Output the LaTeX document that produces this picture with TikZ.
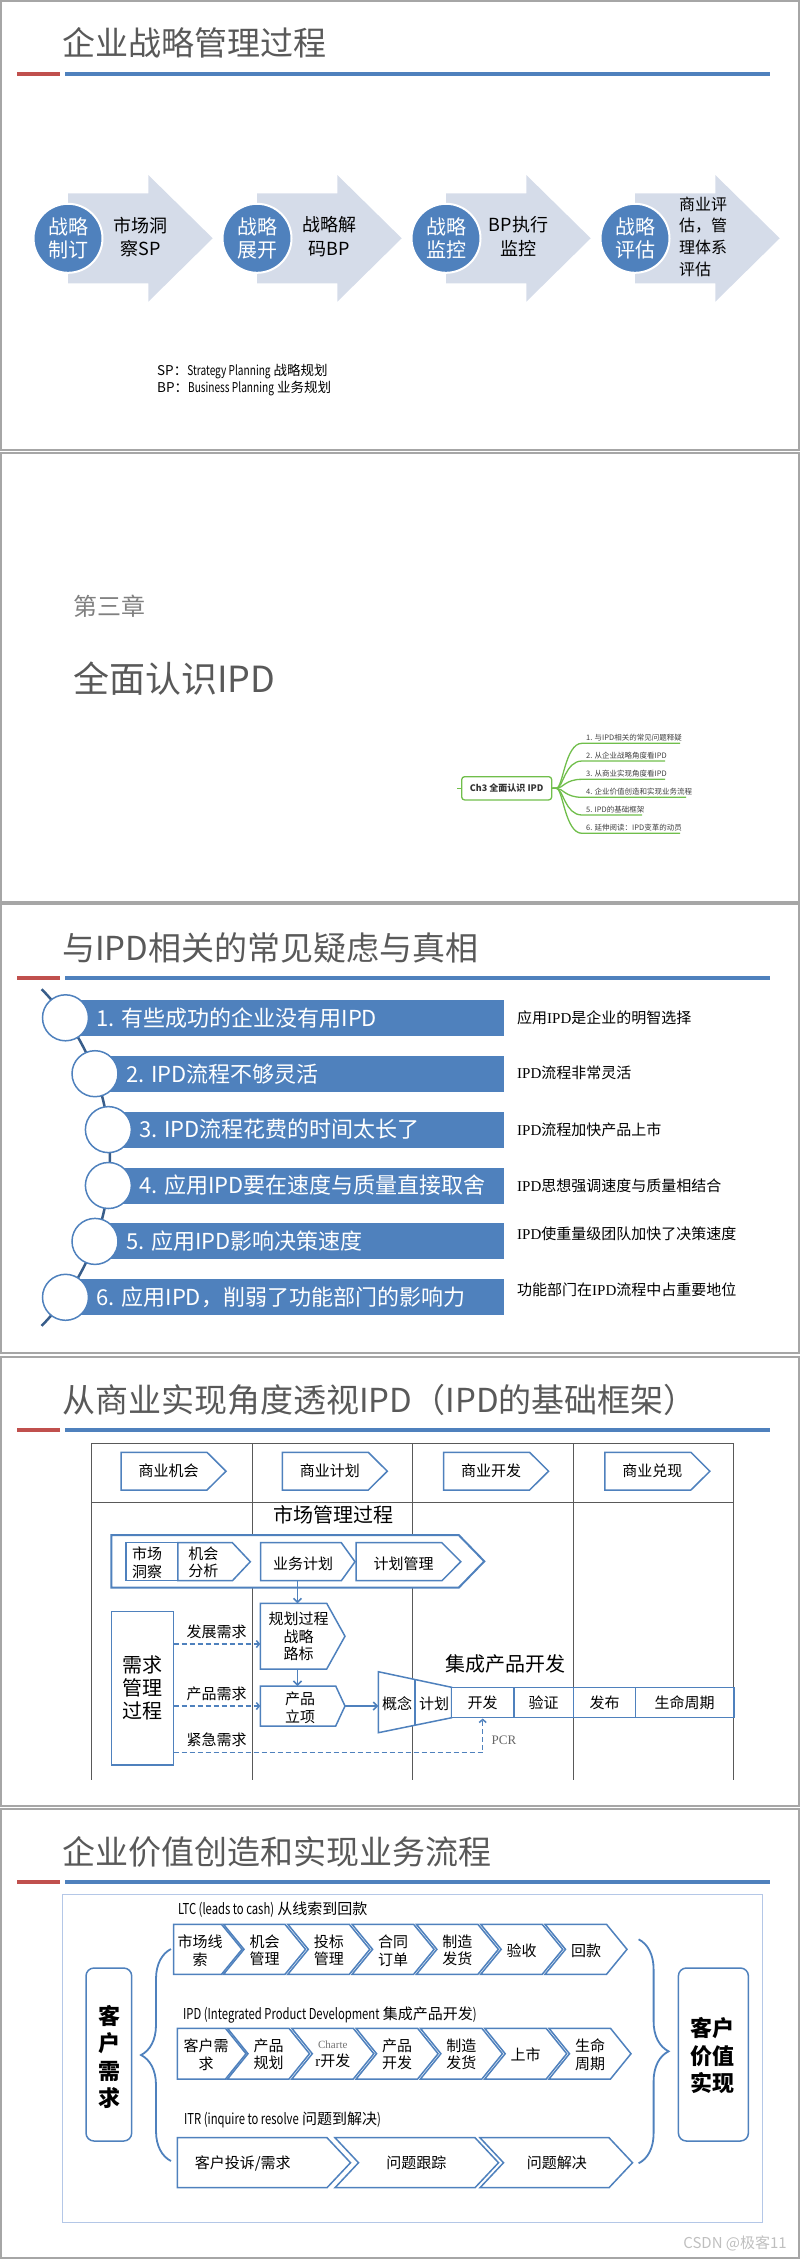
\documentclass[tikz,border=0pt]{standalone}
\usepackage{fontspec}
\setmainfont{Noto Sans CJK SC}
\newfontfamily\narrowlat[FakeStretch=0.75]{Noto Sans CJK SC}
\newfontfamily\serifipd{Liberation Serif}
\usetikzlibrary{arrows.meta,decorations.pathreplacing}
\definecolor{OfficeBlue}{RGB}{79,129,189}
\definecolor{DeepBlue}{RGB}{56,93,138}
\definecolor{TitleRed}{RGB}{192,80,77}
\definecolor{TitleGray}{RGB}{89,89,89}
\definecolor{FrameGray}{RGB}{166,166,166}
\definecolor{ArrowFill}{RGB}{213,220,233}
\definecolor{MindGreen}{RGB}{112,190,75}
\definecolor{PaleBlue}{RGB}{180,199,231}
\tikzset{
  slideframe/.style={draw=FrameGray,line width=2pt},
  slidetitle/.style={anchor=west,inner sep=0pt,text=TitleGray,font=\fontsize{33}{38}\selectfont},
  redbar/.style={draw=TitleRed,line width=4pt},
  bluebar/.style={draw=OfficeBlue,line width=4pt},
  bigarrow/.style={fill=ArrowFill},
  stagedot/.style={circle,fill=OfficeBlue,draw=white,line width=2pt,minimum size=69pt,inner sep=0pt,
    text=white,align=center,font=\fontsize{20}{23.3}\selectfont},
  arrowtext/.style={align=center,inner sep=0pt,font=\fontsize{18}{23.3}\selectfont},
  note/.style={anchor=west,inner sep=0pt,font=\fontsize{13.5}{16}\selectfont},
  chapterno/.style={anchor=west,inner sep=0pt,text=black!50,font=\fontsize{24}{28}\selectfont},
  chaptername/.style={anchor=west,inner sep=0pt,text=TitleGray,font=\fontsize{36}{42}\selectfont},
  hubbox/.style={draw=MindGreen,line width=1.3pt,rounded corners=3pt,minimum width=90pt,minimum height=23.3pt,
    inner sep=0pt,text=black!80,font=\bfseries\fontsize{9}{10}\selectfont},
  twig/.style={draw=MindGreen,line width=1.3pt},
  twiglabel/.style={anchor=south west,inner sep=0pt,text=black!75,font=\fontsize{7.5}{9}\selectfont},
  spine/.style={draw=DeepBlue,line width=2.5pt},
  mythbar/.style={fill=OfficeBlue},
  mythdot/.style={circle,draw=OfficeBlue,fill=white,line width=1.5pt,minimum size=46pt,inner sep=0pt},
  mythtext/.style={anchor=west,inner sep=0pt,text=white,font=\fontsize{22}{26}\selectfont},
  truthtext/.style={anchor=west,inner sep=0pt,font=\fontsize{15}{18}\selectfont},
  lanerule/.style={draw=black!65,line width=1pt},
  flowbox/.style={draw=OfficeBlue,line width=1.5pt,fill=white},
  flowtext/.style={align=center,inner sep=0pt,font=\fontsize{15}{17.5}\selectfont},
  bigtext/.style={align=center,inner sep=0pt,font=\fontsize{20}{23}\selectfont},
  flowarr/.style={draw=OfficeBlue,line width=1.5pt,-{Straight Barb[length=4pt,width=8pt]}},
  demand/.style={draw=OfficeBlue,line width=1.5pt,dash pattern=on 5pt off 3pt,-{Straight Barb[length=3pt,width=7pt]}},
  pcr/.style={inner sep=0pt,text=black!60,font=\serifipd\fontsize{13}{15}\selectfont},
  panel/.style={draw=PaleBlue,line width=1pt},
  chev/.style={draw=OfficeBlue,line width=1.5pt,fill=white},
  chevtext/.style={align=center,inner sep=0pt,font=\fontsize{15}{17.5}\selectfont},
  rowlabel/.style={anchor=west,inner sep=0pt,font=\fontsize{15}{18}\selectfont},
  bracket/.style={draw=OfficeBlue,line width=1.8pt,decorate,decoration={brace,amplitude=30pt}},
  valbox/.style={draw=OfficeBlue,line width=1.5pt,rounded corners=8pt},
  valtext/.style={align=center,inner sep=0pt,font=\bfseries\fontsize{22}{27.5}\selectfont},
}

\begin{document}
\begin{tikzpicture}[x=1pt,y=-1pt]
\useasboundingbox (0,0) rectangle (800,2259);

% slide 1: strategy management
\draw[slideframe] (1,1) rectangle (799,450);
\node[slidetitle] (t1) at (62,43) {企业战略管理过程};
\draw[redbar] (17,74) -- (60,74);
\draw[bluebar] (65,74) -- (770,74);
\foreach \i/\dtext in {0/{战略\\制订},1/{战略\\展开},2/{战略\\监控},3/{战略\\评估}}{
  \fill[bigarrow] ({68+189*\i},193.3) -- ({148.3+189*\i},193.3) -- ({148.3+189*\i},175) -- ({212.7+189*\i},238.3)
    -- ({148.3+189*\i},301.7) -- ({148.3+189*\i},283.3) -- ({68+189*\i},283.3) -- cycle;
  \node[stagedot] (dot\i) at ({68+189*\i},238.3) {\dtext};
}
\node[arrowtext] (step0) at (140.5,236.7) {市场洞\\察SP};
\node[arrowtext] (step1) at (329.5,236.7) {战略解\\码BP};
\node[arrowtext] (step2) at (518.5,236.7) {BP执行\\监控};
\node[arrowtext,anchor=west,align=left,font=\fontsize{16}{21.8}\selectfont] (step3) at (679,236.7) {商业评\\估，管\\理体系\\评估};
\node[note] (sp) at (157,371) {SP：{\narrowlat Strategy Planning} 战略规划};
\node[note] (bp) at (157,389) {BP：{\narrowlat Business Planning} 业务规划};

% slide 2: chapter cover
\draw[slideframe] (1,453) rectangle (799,902);
\node[chapterno] (chap) at (73,606) {第三章};
\node[chaptername] (chapname) at (73,679) {全面认识IPD};
\node[hubbox] (hub) at (506.7,788.3) {Ch3 全面认识 IPD};
\coordinate (stub) at (457,788.3);
\draw[twig] (stub) -- (hub.west);
\foreach \y/\xe/\txt [count=\k] in {743.3/680/{与IPD相关的常见问题释疑},761/665/{从企业战略角度看IPD},
    779.3/665/{从商业实现角度看IPD},797.3/686/{企业价值创造和实现业务流程},815/642/{IPD的基础框架},
    833.3/680/{延伸阅读：IPD变革的动员}}{
  \coordinate (leaf\k) at (\xe,\y);
  \draw[twig] (hub.east) -- ++(4,0) .. controls (563,788.3) and (565,\y) .. (582,\y) -- (leaf\k);
  \node[twiglabel] (topic\k) at (586,{\y-1.5}) {\k. \txt};
}

% slide 3: doubts and truths
\draw[slideframe] (1,904) rectangle (799,1353);
\node[slidetitle] (t3) at (62,947.5) {与IPD相关的常见疑虑与真相};
\draw[redbar] (17,978) -- (60,978);
\draw[bluebar] (65,978) -- (770,978);
\draw[spine] (-131.5,1157.5) ++(-44.2:241.5) arc[start angle=-44.2,end angle=44.2,radius=241.5];
\foreach \cx/\cy/\ay/\myth/\truth [count=\k] in {
    65.5/1017.8/1018/{1. 有些成功的企业没有用IPD}/{应用{\serifipd IPD}是企业的明智选择},
    95/1073.7/1073/{2. IPD流程不够灵活}/{{\serifipd IPD}流程非常灵活},
    108.4/1129.6/1130/{3. IPD流程花费的时间太长了}/{{\serifipd IPD}流程加快产品上市},
    108.4/1185.5/1185.7/{4. 应用IPD要在速度与质量直接取舍}/{{\serifipd IPD}思想强调速度与质量相结合},
    95/1241.4/1234/{5. 应用IPD影响决策速度}/{{\serifipd IPD}使重量级团队加快了决策速度},
    65.5/1297.3/1290/{6. 应用IPD，削弱了功能部门的影响力}/{功能部门在{\serifipd IPD}流程中占重要地位}}{
  \fill[mythbar] (\cx,{\cy-18}) rectangle (504,{\cy+18});
  \node[mythdot] (ring\k) at (\cx,\cy) {};
  \node[mythtext] (myth\k) at ({\cx+31},\cy) {\myth};
  \node[truthtext] (truth\k) at (517,\ay) {\truth};
}

% slide 4: business view of IPD
\draw[slideframe] (1,1357) rectangle (799,1806);
\node[slidetitle] (t4) at (62,1400) {从商业实现角度透视IPD（IPD的基础框架）};
\draw[redbar] (17,1430) -- (60,1430);
\draw[bluebar] (65,1430) -- (770,1430);
\foreach \x in {91.5,252.1,412.7,573.3,733.9}
  \draw[lanerule] (\x,1443) -- (\x,1780);
\draw[lanerule] (91.5,1443) -- (733.9,1443);
\draw[lanerule] (91.5,1502.5) -- (733.9,1502.5);
\foreach \lx/\txt [count=\k] in {121/商业机会,282.3/商业计划,443.6/商业开发,604.9/商业兑现}{
  \draw[flowbox] (\lx,1452.3) -- ({\lx+86},1452.3) -- ({\lx+105},1471.2) -- ({\lx+86},1490) -- (\lx,1490) -- cycle;
  \node[flowtext] (phase\k) at ({\lx+47.5},1471.2) {\txt};
}
\node[bigtext] (mm) at (333,1515) {市场管理过程};
\draw[flowbox,line width=2pt] (111.4,1535) -- (458.7,1535) -- (484.3,1561.3) -- (458.7,1587.7) -- (111.4,1587.7) -- cycle;
\draw[flowbox] (126.2,1542.7) rectangle (177.8,1580.7);
\draw[flowbox] (177.8,1542.7) -- (232.4,1542.7) -- (250.3,1561.7) -- (232.4,1580.7) -- (177.8,1580.7) -- cycle;
\draw[flowbox] (260.5,1542.7) -- (341.3,1542.7) -- (355,1561.7) -- (341.3,1580.7) -- (260.5,1580.7) -- cycle;
\draw[flowbox] (356,1542.7) -- (441.9,1542.7) -- (460.8,1561.7) -- (441.9,1580.7) -- (356,1580.7) -- cycle;
\node[flowtext] (insight) at (147.1,1562.5) {市场\\洞察};
\node[flowtext] (chance) at (203.3,1562.5) {机会\\分析};
\node[flowtext] (bizplan) at (303,1563.3) {业务计划};
\node[flowtext] (planmgmt) at (403.6,1563.3) {计划管理};
\draw[flowbox] (260.3,1603.3) -- (326.7,1603.3) -- (345,1636.2) -- (326.7,1669) -- (260.3,1669) -- cycle;
\node[flowtext] (roadmap) at (298.5,1636.5) {规划过程\\战略\\路标};
\draw[flowbox] (260.3,1686) -- (335.7,1686) -- (345,1706) -- (335.7,1726) -- (260.3,1726) -- cycle;
\node[flowtext] (charter) at (300,1708) {产品\\立项};
\draw[flowbox] (378.3,1671.7) -- (451.7,1687.3) -- (451.7,1717.7) -- (378.3,1732.7) -- cycle;
\draw[flowbox] (415,1679.5) -- (415,1725.1);
\draw[flowbox] (451.7,1687.3) rectangle (733.9,1717.7);
\foreach \x in {514,573.3,635.5}
  \draw[flowbox] (\x,1687.3) -- (\x,1717.7);
\node[bigtext] (ipdlbl) at (505,1664) {集成产品开发};
\node[flowtext] (concept) at (397,1704) {概念};
\node[flowtext] (plan) at (434,1704) {计划};
\node[flowtext] (dev) at (482.5,1703) {开发};
\node[flowtext] (verify) at (543.5,1703) {验证};
\node[flowtext] (launch) at (604.5,1703) {发布};
\node[flowtext] (life) at (684.7,1703) {生命周期};
\draw[flowbox] (111.4,1611.5) rectangle (173.5,1765);
\node[bigtext] (demandmgmt) at (142.5,1688) {需求\\管理\\过程};
% connectors
\coordinate (bizplan-s) at (297.5,1580.7);
\coordinate (roadmap-n) at (297.5,1603.3);
\coordinate (roadmap-s) at (297.5,1669);
\coordinate (charter-n) at (297.5,1686);
\coordinate (charter-e) at (345,1706);
\coordinate (funnel-w) at (378.3,1706);
\draw[flowarr] (bizplan-s) -- (roadmap-n);
\draw[flowarr] (roadmap-s) -- (charter-n);
\draw[flowarr] (charter-e) -- (funnel-w);
\coordinate (dm-e1) at (173.5,1644);
\coordinate (roadmap-w) at (260.3,1644);
\coordinate (dm-e2) at (173.5,1706);
\coordinate (charter-w) at (260.3,1706);
\coordinate (dm-e3) at (173.5,1752.3);
\coordinate (dev-s) at (482.7,1718.5);
\draw[demand] (dm-e1) -- (roadmap-w);
\draw[demand] (dm-e2) -- (charter-w);
\draw[demand] (dm-e3) -| (dev-s);
\node[flowtext] (need1) at (216.6,1632) {发展需求};
\node[flowtext] (need2) at (216.6,1694) {产品需求};
\node[flowtext] (need3) at (216.6,1740) {紧急需求};
\node[pcr] (pcrlbl) at (504,1740) {PCR};

% slide 5: value chain
\draw[slideframe] (1,1809) rectangle (799,2258);
\node[slidetitle] (t5) at (62,1852) {企业价值创造和实现业务流程};
\draw[redbar] (17,1882) -- (60,1882);
\draw[bluebar] (65,1882) -- (770,1882);
\draw[panel] (62.3,1894.3) rectangle (762.7,2222.3);
\node[rowlabel] (ltc) at (177.8,1910) {{\narrowlat LTC (leads to cash)} 从线索到回款};
\draw[chev] (173.5,1924.3) -- (221.5,1924.3) -- (242,1949.3) -- (221.5,1974.3) -- (173.5,1974.3) -- cycle;
\node[chevtext] (ltc1) at (200,1950.5) {市场线\\索};
\foreach \lx/\txt [count=\k from 2] in {223.5/{机会\\管理},287.8/{投标\\管理},352.1/{合同\\订单},416.4/{制造\\发货},480.7/验收,545/回款}{
  \draw[chev] (\lx,1924.3) -- ({\lx+61.5},1924.3) -- ({\lx+82},1949.3) -- ({\lx+61.5},1974.3) -- (\lx,1974.3) -- ({\lx+20.5},1949.3) -- cycle;
  \node[chevtext] (ltc\k) at ({\lx+41},1950.5) {\txt};
}
\node[rowlabel] (ipd) at (183,2015) {{\narrowlat IPD (Integrated Product Development} 集成产品开发{\narrowlat )}};
\draw[chev] (177.3,2028.3) -- (225.5,2028.3) -- (246,2053.7) -- (225.5,2079) -- (177.3,2079) -- cycle;
\node[chevtext] (ipd1) at (206,2054.5) {客户需\\求};
\foreach \lx/\txt [count=\k from 2] in {227.5/{产品\\规划},291.8/{\color{black!55}\fontsize{11}{14.3}\selectfont{\serifipd Charte}\\{\serifipd r}开发},
    356.1/{产品\\开发},420.4/{制造\\发货},484.7/上市,549/{生命\\周期}}{
  \draw[chev] (\lx,2028.3) -- ({\lx+61.5},2028.3) -- ({\lx+82},2053.7) -- ({\lx+61.5},2079) -- (\lx,2079) -- ({\lx+20.5},2053.7) -- cycle;
  \node[chevtext] (ipd\k) at ({\lx+41},2054.5) {\txt};
}
\node[rowlabel] (itr) at (184,2120) {{\narrowlat ITR (inquire to resolve} 问题到解决{\narrowlat )}};
\draw[chev] (177.3,2137.7) -- (327,2137.7) -- (350.5,2162.7) -- (327,2187.7) -- (177.3,2187.7) -- cycle;
\draw[chev] (335,2137.7) -- (475,2137.7) -- (498.5,2162.7) -- (475,2187.7) -- (335,2187.7) -- (358.5,2162.7) -- cycle;
\draw[chev] (480,2137.7) -- (609,2137.7) -- (632.5,2162.7) -- (609,2187.7) -- (480,2187.7) -- (503.5,2162.7) -- cycle;
\node[chevtext] (itr1) at (242.7,2163) {客户投诉/需求};
\node[chevtext] (itr2) at (416.3,2163) {问题跟踪};
\node[chevtext] (itr3) at (556.8,2163) {问题解决};
\coordinate (brL-top) at (171,1949);
\coordinate (brL-bot) at (171,2161);
\coordinate (brR-top) at (638.6,1939.3);
\coordinate (brR-bot) at (638.6,2163.3);
\draw[bracket] (brL-bot) -- (brL-top);
\draw[bracket] (brR-top) -- (brR-bot);
\draw[valbox] (86,1968) rectangle (131.7,2141);
\node[valtext] (need) at (109,2057) {客\\户\\需\\求};
\draw[valbox] (678.4,1968) rectangle (748.4,2141);
\node[valtext] (value) at (712.6,2055.5) {客户\\价值\\实现};
\node[anchor=east,inner sep=0pt,text=black!25,font=\fontsize{15}{18}\selectfont] (mark) at (787,2243) {CSDN @极客11};
\end{tikzpicture}
\end{document}
